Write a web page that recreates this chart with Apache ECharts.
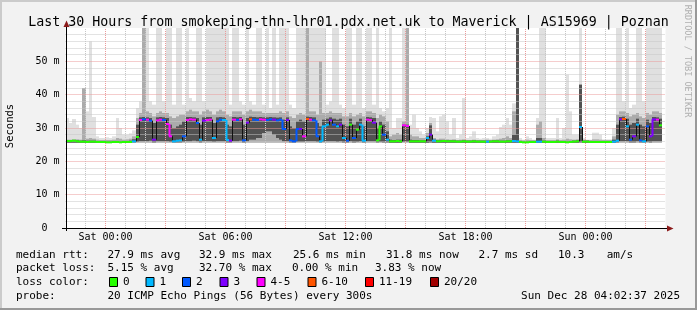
<!DOCTYPE html>
<html><head><meta charset="utf-8">
<script src="https://cdn.jsdelivr.net/npm/echarts@6/dist/echarts.min.js"></script>
<style>html,body{margin:0;padding:0;background:#f2f2f2}#c{width:697px;height:310px}</style>
</head><body><div id="c"></div>
<script>
// ---------- data ----------
const SLOT_MIN = 10;            // minutes per sample slot
const T0 = -120;                // slot 0 start (minutes relative to Sat 00:00)
const X_MIN = -120, X_MAX = 1680;
const X_TICK_LABELS = {0:'Sat 00:00', 360:'Sat 06:00', 720:'Sat 12:00', 1080:'Sat 18:00', 1440:'Sun 00:00'};
const Y_TICK_LABELS = {0:'0  ', 10:'10 m', 20:'20 m', 30:'30 m', 40:'40 m', 50:'50 m'};
const RTT_FLOOR = 25.6;         // lowest ping (ms)

const median = [
26.1,26.1,26.2,26.0,25.9,25.9,25.8,25.9,25.9,25.8,
25.8,25.8,25.7,25.7,25.8,25.8,25.7,25.8,25.8,25.8,
26.0,27.3,32.4,32.6,32.5,32.2,26.5,32.3,32.5,32.4,
31.2,27.5,26.0,26.2,26.3,27.5,32.4,32.6,32.5,31.5,
26.5,32.2,32.4,32.5,27.0,32.0,32.5,32.4,26.4,26.2,
32.5,32.4,32.6,26.3,31.6,32.6,32.5,32.4,32.6,32.5,
32.4,32.6,32.5,32.3,32.5,29.7,32.4,26.3,26.0,29.7,
29.7,27.5,32.7,32.5,32.3,27.5,26.0,30.5,31.0,32.3,
31.0,30.5,31.0,27.0,26.2,31.0,27.0,29.5,31.0,26.2,
32.5,32.4,31.6,26.3,30.5,28.0,26.5,26.0,26.0,26.1,
26.0,30.8,30.6,26.0,26.0,26.0,26.0,26.0,27.0,28.0,
26.2,26.0,26.0,26.1,26.0,26.0,26.0,25.9,25.9,26.0,
25.9,25.9,26.0,25.9,25.9,25.9,25.9,25.9,26.0,26.0,
25.9,25.9,26.0,26.0,26.1,26.0,25.8,25.7,25.7,25.8,
25.8,25.9,25.9,25.9,25.8,25.8,25.8,25.9,25.8,25.8,
25.7,25.8,25.9,26.0,30.3,25.9,25.9,25.8,25.8,25.8,
25.8,25.8,25.8,25.8,25.9,26.2,32.6,32.7,30.5,26.5,
27.5,31.0,26.3,26.0,30.5,27.5,32.6,32.5,30.8,null];

const loss = [
0,0,0,0,0,0,0,0,0,0,
0,0,0,0,0,0,0,0,0,0,
1,0,4,2,4,2,3,4,4,2,
4,4,1,1,1,2,4,4,4,2,
1,3,4,4,1,2,2,1,1,3,
4,2,4,2,3,7,2,2,4,4,
2,2,3,2,2,2,3,2,2,2,
3,4,7,4,2,2,1,1,1,3,
2,1,3,1,2,0,2,0,1,1,
4,4,3,0,0,2,1,0,0,0,
0,4,4,0,0,0,0,0,1,3,
1,0,0,0,0,0,0,0,0,0,
0,0,0,0,0,0,1,0,0,0,
0,0,0,0,1,1,0,0,0,0,
0,1,1,0,0,0,0,0,0,0,
0,0,0,0,1,0,0,0,0,0,
0,0,0,0,1,1,3,7,1,2,
3,1,2,1,2,3,3,4,0,null];

// smoke: dark band q1..q3, mid band floor..p90, light band floor..max
const q1 = [
25.6,25.6,25.6,25.6,25.6,25.6,25.6,25.6,25.6,25.6,
25.6,25.6,25.6,25.6,25.6,25.6,25.6,25.6,25.6,25.6,
25.7,25.8,26,26,26,26.2,25.7,26,26,26,
26,25.8,25.7,25.7,25.7,25.8,26,26,26.2,26,
25.7,26,26,26,25.8,26,26,26,25.7,25.7,
26,26,26.2,25.7,26,26.5,26.5,27,27,28.5,
29,29,28,27,26.5,26,26,25.7,25.7,25.8,
25.8,25.8,26,26,26,25.8,25.7,25.8,26,26,
26,25.8,26,25.7,25.7,26,25.7,25.8,26,25.7,
26,26,26,25.7,25.8,25.7,25.7,25.6,25.6,25.6,
25.6,25.8,25.8,25.6,25.6,25.6,25.6,25.6,25.6,25.7,
25.6,25.6,25.6,25.6,25.6,25.6,25.6,25.6,25.6,25.6,
25.6,25.6,25.6,25.6,25.6,25.6,25.6,25.6,25.6,25.6,
25.6,25.6,25.6,25.6,25.6,25.6,25.6,25.6,25.6,25.6,
25.6,25.6,25.6,25.6,25.6,25.6,25.6,25.6,25.6,25.6,
25.6,25.6,25.6,25.6,25.7,25.6,25.6,25.6,25.6,25.6,
25.6,25.6,25.6,25.6,25.6,25.7,26,26,26,25.7,
25.7,26,25.7,25.7,25.8,25.7,26,26,26,null];

const q3 = [
26.3,26.3,26.4,26.3,26.2,26.3,26.2,26.2,26.2,26.1,
26.1,26.1,26.0,26.0,26.1,26.1,26.0,26.1,26.1,26.2,
26.6,31,33.2,33.3,33.2,33.0,31.5,33.2,33.3,33.2,
33,31,30,30.5,31,32,33.3,33.3,33.2,33,
31,33.2,33.3,33.3,31.5,33.2,33.3,33.2,31,30.5,
33.3,33.2,33.3,31,33,33.4,33.3,33.2,33.3,33.2,
33.2,33.3,33.2,33.1,33.2,32.5,33.2,30.5,30,32,
32.5,32,33.4,33.3,33.2,31.5,30.5,32.5,32.8,33.2,
32.8,32.5,32.8,31,30.5,32.8,31,32,32.8,30.5,
33.3,33.2,33,30,32,31,29,26.5,26.4,26.5,
26.5,31,31,26.5,26.4,26.4,26.3,26.3,27.5,30.8,
26.5,26.3,26.3,26.3,26.3,26.3,26.3,26.2,26.2,26.3,
26.2,26.2,26.3,26.2,26.2,26.2,26.2,26.2,26.3,26.3,
26.2,26.2,26.3,26.3,28,70,26.1,26.0,26.0,26.1,
26.1,27,27,26.2,26.1,26.1,26.1,26.2,26.1,26.1,
26.0,26.1,26.2,26.3,43,26.2,26.2,26.1,26.1,26.1,
26.1,26.1,26.1,26.1,26.5,31,33.3,33.4,32.8,31,
31.5,32.8,31,30.5,32.5,31.5,33.3,33.2,32.8,null];

const p90 = [
26.5,26.5,26.6,26.6,26.5,42,26.8,27,26.8,26.5,
26.4,26.4,26.4,26.4,26.5,27,26.8,26.5,26.6,26.8,
27.5,33,34.5,70,35,34.5,33.5,34.5,35,34.5,
34.5,33.5,33,33.5,34,34,35,35.5,35,35,
34,35,35.5,35,34,35,35.5,35,34,33.5,
35,35,35,34,35,35.5,35,35,35,34.5,
34.5,34.5,34.5,34.5,35,34.5,35,33.5,33,34,
34.5,34,70,35,35,34,50,34.5,34.5,35,
34.5,34.5,34.5,33.5,33.5,34.5,33.5,34,34.5,33.5,
35,35,34.5,33,34,33.5,32,27.5,28,28.5,
28,32,70,28,27.5,27.5,27,27,28.5,31.5,
27,26.6,26.8,26.8,26.6,26.5,26.6,26.4,26.5,26.6,
26.4,26.4,26.5,26.4,26.4,26.4,26.5,26.4,26.5,26.6,
26.8,27,27.5,27,35,70,26.4,26.3,26.5,26.4,
26.4,31,32,27,26.4,26.4,26.4,26.6,26.4,26.5,
26.8,26.6,26.5,26.6,43,26.5,26.4,26.4,26.6,26.6,
26.5,26.4,26.4,26.4,27.5,34,35,35,34.5,33.5,
34,34.5,33.5,33,34.5,34,35,35,34.5,null];

const pmax = [
33,31.5,32.7,31,30,42,35,56,33.3,27.5,
27,27,27.2,27,27.5,33,30,28,28,28.4,
29.3,36,38,70,70,38,37,70,70,38,
70,70,37,70,70,37,70,39,38,70,
70,38,70,70,70,70,70,70,70,37,
70,70,38,37,70,38,37,70,70,37,
70,36,70,37,70,70,70,37,36,70,
70,70,70,70,70,70,70,70,37,38,
70,70,37,36,70,70,37,70,70,36,
70,70,37,70,36,35,36,70,30,33,
33,70,70,31,34,30,29,28,30,33.3,
33,29,33.5,34,32,28,33,27,28,39,
27,27.5,29,27,26.8,27,27,26.8,27.5,28,
30.3,31,33,31,37.4,70,27,26.5,27.5,27,
26.5,33,70,70,27,27,27,33,27,30,
46,35,28,28,70,27,26.5,26.5,28.6,28.6,
28,26.6,26.6,26.6,30,70,70,38,70,36,
37,70,70,38,70,70,70,70,70,null];

const LOSS_LEVELS = [
  {upTo:0,  color:'#26ff00', label:'0'},
  {upTo:1,  color:'#00b8ff', label:'1'},
  {upTo:2,  color:'#0059ff', label:'2'},
  {upTo:3,  color:'#7e00ff', label:'3'},
  {upTo:5,  color:'#ff00ff', label:'4-5'},
  {upTo:10, color:'#ff5500', label:'6-10'},
  {upTo:19, color:'#ff0000', label:'11-19'},
  {upTo:20, color:'#a10000', label:'20/20'}
];
const TITLE = 'Last 30 Hours from smokeping-thn-lhr01.pdx.net.uk to Maverick | AS15969 | Poznan';
const LEGEND_RTT  = [['median rtt:',16],['27.9 ms avg',107.5],['32.9 ms max',199],['25.6 ms min',293],['31.8 ms now',386],['2.7 ms sd',478.5],['10.3',558],['am/s',606.7]];
const LEGEND_LOSS = [['packet loss:',16],['5.15 % avg',107.5],['32.70 % max',199],['0.00 % min',292],['3.83 % now',375]];
const LEGEND_SWATCH_X = [109,145.5,182,219.5,256.5,307.5,365,430];
const PROBE_TEXT = '20 ICMP Echo Pings (56 Bytes) every 300s';
const STAMP_TEXT = 'Sun Dec 28 04:02:37 2025';

// ---------- chart ----------
const MONO = '"DejaVu Sans Mono", monospace';
function lossColor(l){ for (const lv of LOSS_LEVELS) if (l <= lv.upTo) return lv.color; return LOSS_LEVELS[LOSS_LEVELS.length-1].color; }

const rows = median.map((m,i)=>[T0 + i*SLOT_MIN, m, loss[i], q1[i], q3[i], p90[i], pmax[i],
  i>0 ? median[i-1] : null, i>0 ? loss[i-1] : null]);

function renderSmoke(params, api){
  const mx = api.value(6); if (isNaN(mx)) return;
  const t = api.value(0);
  const xa = Math.round(api.coord([t,0])[0]);
  const xb = Math.round(api.coord([t+SLOT_MIN,0])[0]);
  const w = xb - xa;
  const y = v => api.coord([t, v])[1];
  const ch = [];
  const band = (lo, hi, color) => { const ya = y(hi), yb = y(lo); ch.push({type:'rect', shape:{x:xa, y:ya, width:w, height:yb-ya}, style:{fill:color}}); };
  band(RTT_FLOOR, mx, '#e0e0e0');
  band(RTT_FLOOR, api.value(5), '#ababab');
  band(api.value(3), api.value(4), '#525252');
  return {type:'group', children:ch};
}
function renderMedian(params, api){
  const m = api.value(1); if (isNaN(m)) return;
  const t = api.value(0);
  const xa = Math.round(api.coord([t,0])[0]);
  const xb = Math.round(api.coord([t+SLOT_MIN,0])[0]);
  const ym = api.coord([t,m])[1];
  const col = lossColor(api.value(2));
  const ch = [];
  const pm = api.value(7);
  if (!isNaN(pm)) {
    const yp = api.coord([t,pm])[1];
    const pc = lossColor(api.value(8));
    ch.push({type:'line', shape:{x1:xa+0.5, y1:yp, x2:xa+0.5, y2:ym}, style:{stroke: pc===col ? col : '#111', lineWidth: pc===col ? 2 : 1}});
  }
  ch.push({type:'line', shape:{x1:xa, y1:ym, x2:xb, y2:ym}, style:{stroke:col, lineWidth:2}});
  return {type:'group', children:ch};
}

const MINOR = {color:'#c6c6c6', width:1, type:[1,1]};
const MAJOR = {color:'#eb9a9a', width:1, type:[1,1]};
const gridLines = [];
for (let t = X_MIN + 60; t < X_MAX; t += 60) if (t % 180 !== 0) gridLines.push({xAxis:t, lineStyle:MINOR});
for (let v = 2; v < 60; v += 2) if (v % 10 !== 0) gridLines.push({yAxis:v, lineStyle:MINOR});
for (let t = X_MIN + 60; t < X_MAX; t += 60) if (t % 180 === 0) gridLines.push({xAxis:t, lineStyle:MAJOR});
for (let v = 10; v < 60; v += 10) gridLines.push({yAxis:v, lineStyle:MAJOR});

const txt = (text, x, y, opt={}) => Object.assign({type:'text', z:10, style:Object.assign({text, x, y, fill:'#000', font:'11px '+MONO,
  textAlign:'left', textVerticalAlign:'middle', align:'left', verticalAlign:'middle'}, opt.style||{})}, opt.el||{});

const graphics = [
  {type:'rect', shape:{x:0,y:0,width:697,height:2}, style:{fill:'#cbcbcb'}},
  {type:'rect', shape:{x:0,y:0,width:2,height:310}, style:{fill:'#cbcbcb'}},
  {type:'rect', shape:{x:0,y:308,width:697,height:2}, style:{fill:'#999999'}},
  {type:'rect', shape:{x:695,y:0,width:2,height:310}, style:{fill:'#999999'}},
  // axis stubs and arrows
  {type:'line', z:10, shape:{x1:62, y1:228.5, x2:668, y2:228.5}, style:{stroke:'#000', lineWidth:1}},
  {type:'line', z:10, shape:{x1:66.5, y1:231, x2:66.5, y2:26}, style:{stroke:'#000', lineWidth:1}},
  {type:'polygon', z:11, shape:{points:[[667,225.5],[673.5,228.5],[667,231.5]]}, style:{fill:'#8b1a1a'}},
  {type:'polygon', z:11, shape:{points:[[63.5,27],[66.5,20.5],[69.5,27]]}, style:{fill:'#8b1a1a'}},
  txt('Seconds', 0, 0, {style:{font:'10.5px '+MONO, textAlign:'center', align:'center'}, el:{rotation:Math.PI/2, x:10, y:126}}),
  txt('RRDTOOL / TOBI OETIKER', 0, 0, {style:{font:'8.5px '+MONO, fill:'#b0b0b0', textAlign:'center', align:'center'}, el:{rotation:-Math.PI/2, x:687.5, y:61}}),
];
LEGEND_RTT.forEach(([s,x])=>graphics.push(txt(s, x, 255)));
LEGEND_LOSS.forEach(([s,x])=>graphics.push(txt(s, x, 268.5)));
graphics.push(txt('loss color:', 16, 282));
LOSS_LEVELS.forEach((lv,i)=>{
  const x = LEGEND_SWATCH_X[i];
  graphics.push({type:'rect', z:10, shape:{x:x+0.5, y:277.5, width:8, height:9}, style:{fill:lv.color, stroke:'#000', lineWidth:1}});
  graphics.push(txt(lv.label, x+14, 282));
});
graphics.push(txt('probe:', 16, 296));
graphics.push(txt(PROBE_TEXT, 107.5, 296));
graphics.push(txt(STAMP_TEXT, 680, 296, {style:{textAlign:'right', align:'right'}}));

const chart = echarts.init(document.getElementById('c'), null, {renderer:'canvas'});
chart.setOption({
  animation:false,
  backgroundColor:'#f2f2f2',
  title:{text:TITLE, left:'center', top:11, textStyle:{fontFamily:MONO, fontSize:13.3, fontWeight:'normal', color:'#000'}},
  grid:{left:65.5, right:31.5, top:28, bottom:82, show:true, backgroundColor:'#ffffff', borderWidth:0},
  xAxis:{type:'value', min:X_MIN, max:X_MAX, interval:60,
    axisLine:{show:false}, axisTick:{show:false}, splitLine:{show:false},
    axisLabel:{margin:4, fontFamily:MONO, fontSize:10, color:'#000', formatter:v=>X_TICK_LABELS[v] || ''}},
  yAxis:{type:'value', min:0, max:60, interval:10,
    axisLine:{show:false}, axisTick:{show:false}, splitLine:{show:false},
    axisLabel:{margin:6, fontFamily:MONO, fontSize:10, color:'#000', formatter:v=>Y_TICK_LABELS[v] || ''}},
  series:[
    {type:'custom', name:'smoke', z:2, clip:true, renderItem:renderSmoke, data:rows, silent:true},
    {type:'line', name:'grid', z:3, data:[], silent:true,
      markLine:{silent:true, z:3, symbol:'none', animation:false, label:{show:false}, data:gridLines}},
    {type:'custom', name:'median', z:6, clip:true, renderItem:renderMedian, data:rows, silent:true}
  ],
  graphic:graphics
});
</script></body></html>
